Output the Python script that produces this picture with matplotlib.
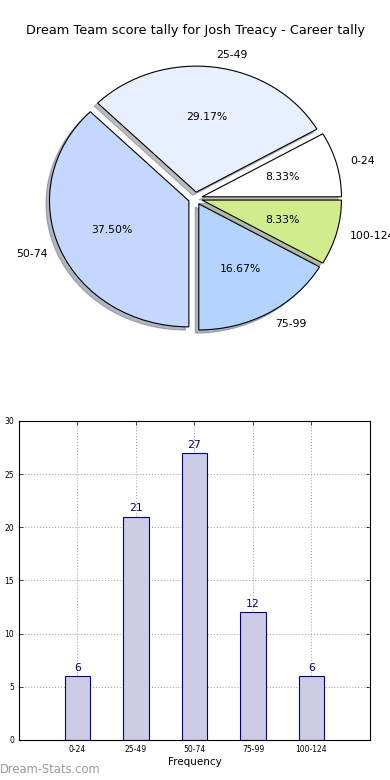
import numpy as np
import matplotlib
matplotlib.use("Agg")
import matplotlib.pyplot as plt

labels = ["0-24", "25-49", "50-74", "75-99", "100-124"]
counts = [6, 21, 27, 12, 6]
pie_colors = ["#ffffff", "#e8f0ff", "#c4d8ff", "#b4d4ff", "#d0ec8c"]
title = "Dream Team score tally for Josh Treacy - Career tally"

fig = plt.figure(figsize=(3.9, 7.8), dpi=100)

# pie (not aspect-equal, slightly squashed like the original)
ax1 = fig.add_axes([0.054, 0.5436, 0.8936, 0.404])
ax1.pie(counts, labels=labels, colors=pie_colors, autopct="%.2f%%",
        explode=[0.05] * len(counts), shadow=dict(ox=-0.018, oy=-0.018, shade=0.5),
        startangle=0,
        wedgeprops=dict(edgecolor="black", linewidth=0.8),
        textprops=dict(fontsize=7.8))
ax1.set_aspect("auto")
ax1.set_xlim(-1.25, 1.25)
ax1.set_ylim(-1.25, 1.25)
fig.text(0.5, 0.9615, title, ha="center", va="center", fontsize=9.3)

# bar chart
ax2 = fig.add_axes([0.0487, 0.0513, 0.9, 0.409])
x = np.arange(len(labels))
ax2.bar(x, counts, width=0.44, color="#ccccE6", edgecolor="#000088", linewidth=0.8, zorder=2)
for xi, c in zip(x, counts):
    ax2.text(xi, c + 0.3, str(c), ha="center", va="bottom", fontsize=7.8, color="#000088")
ax2.set_xlim(-1, 5)
ax2.set_ylim(0, 30)
ax2.set_xticks(x)
ax2.set_xticklabels(labels)
ax2.set_yticks(range(0, 31, 5))
ax2.tick_params(labelsize=5.5, direction="in", top=True, right=True, length=3, width=0.5)
ax2.grid(True, linestyle=":", color="#aaaaaa", linewidth=0.8, zorder=0)
ax2.set_axisbelow(True)
ax2.set_xlabel("Frequency", fontsize=7.5, labelpad=2)
for s in ax2.spines.values():
    s.set_linewidth(0.8)
fig.text(-0.006, 0.255, "Score Intervals", rotation=90, ha="center", va="center", fontsize=7.5)

fig.text(0.0, 0.013, "Dream-Stats.com", ha="left", va="center", fontsize=8.3,
         color="#999999")

fig.savefig("out.png", dpi=100)
